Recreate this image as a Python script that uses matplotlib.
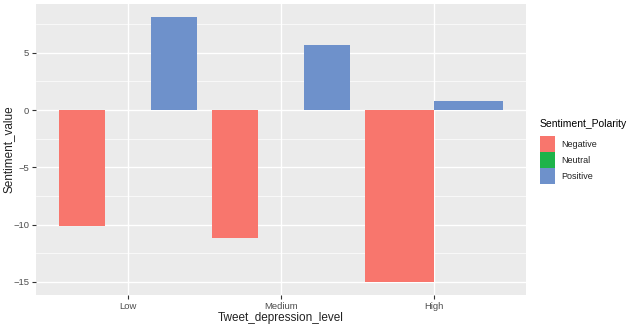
import matplotlib
matplotlib.use("Agg")
import matplotlib.pyplot as plt
from matplotlib.patches import Patch
from matplotlib.ticker import MultipleLocator

plt.rcParams['font.family'] = ['Liberation Sans', 'DejaVu Sans']

levels = ["Low", "Medium", "High"]
polarities = ["Negative", "Neutral", "Positive"]
# sentiment value per level and polarity (None = polarity absent for that level)
negative = [-10.1, -11.2, -15.0]
neutral = [0.0, 0.0, None]
positive = [8.1, 5.65, 0.8]
colors = {"Negative": "#F8766D", "Neutral": "#1EB34A", "Positive": "#6E91CB"}

series = {"Negative": negative, "Neutral": neutral, "Positive": positive}

fig = plt.figure(figsize=(6.33, 3.28), dpi=100)
ax = fig.add_axes([36 / 633, 1 - 295 / 328, 490 / 633, 291 / 328])
ax.set_facecolor("#EBEBEB")

total_width = 0.9
for i, lvl in enumerate(levels):
    present = [p for p in polarities if series[p][i] is not None]
    w = total_width / len(present)
    for j, p in enumerate(present):
        x = i + 1 - total_width / 2 + w * (j + 0.5)
        ax.bar(x, series[p][i], width=w, color=colors[p], linewidth=0, zorder=3)

ax.set_xlim(0.4, 3.6)
ax.set_ylim(-16.16, 9.27)
ax.set_xticks([1, 2, 3])
ax.set_xticklabels(levels)
ax.yaxis.set_major_locator(MultipleLocator(5))
ax.yaxis.set_minor_locator(MultipleLocator(2.5))
ax.set_xticks([], minor=True)
ax.grid(which="major", color="white", linewidth=1.0, zorder=0)
ax.grid(which="minor", axis="y", color="white", linewidth=0.5, zorder=0)
ax.set_axisbelow(True)
for s in ax.spines.values():
    s.set_visible(False)
ax.tick_params(axis="both", which="major", length=3, width=0.8, color="#333333",
               labelsize=6.8, labelcolor="#4D4D4D", pad=2)
ax.tick_params(axis="y", which="minor", length=0)

ax.set_xlabel("Tweet_depression_level", fontsize=8.5, color="#222222", labelpad=1)
ax.set_ylabel("Sentiment_value", fontsize=8.5, color="#222222")
ax.yaxis.set_label_coords(-21 / 490, 0.5)

handles = [Patch(facecolor=colors[p], edgecolor="none", label=p) for p in polarities]
leg = fig.legend(handles=handles, title="Sentiment_Polarity", loc="upper left",
                 bbox_to_anchor=(538 / 633, 1 - 117 / 328), frameon=False,
                 fontsize=6.5, title_fontsize=7.5, handlelength=1.65, handleheight=2.35,
                 handletextpad=0.7, labelspacing=0.0, borderaxespad=0, borderpad=0.2)
leg._legend_box.align = "left"
leg._legend_box.sep = 5
for t in leg.get_texts():
    t.set_color("#222222")

fig.savefig("out.png", dpi=100)
